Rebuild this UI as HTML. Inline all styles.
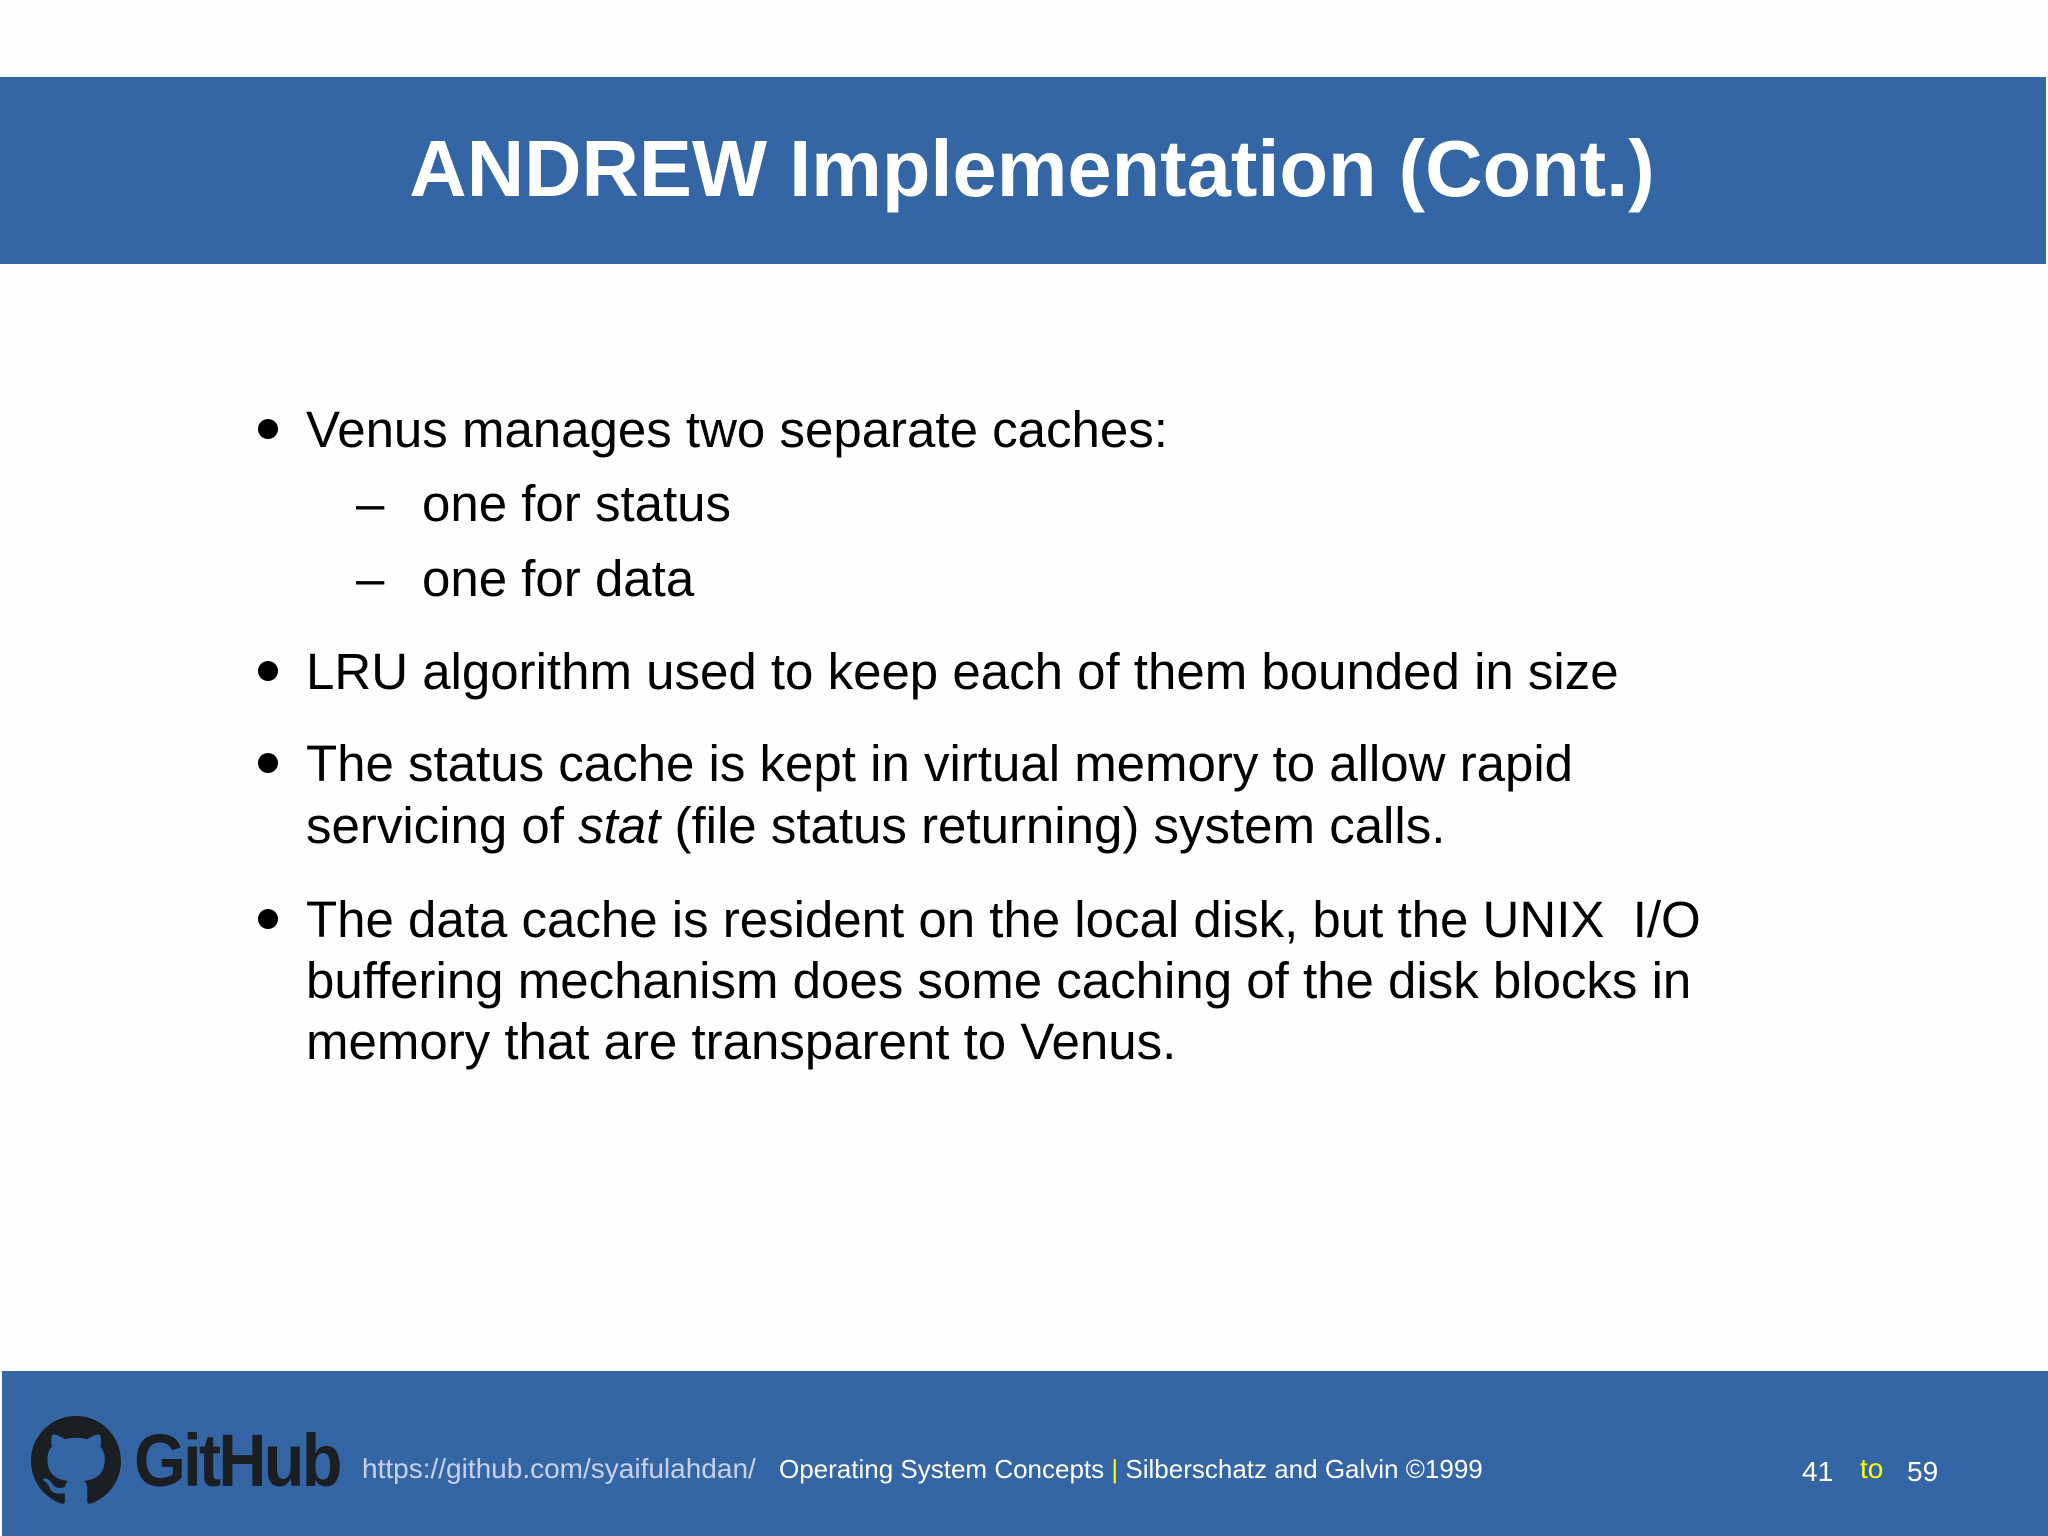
<!DOCTYPE html>
<html><head><meta charset="utf-8"><style>
*{margin:0;padding:0}
body{width:2048px;height:1536px;background:#fdfefe;position:relative;overflow:hidden;font-family:"Liberation Sans",sans-serif;color:#000}
.hdr{position:absolute;left:0;top:77px;width:2046px;height:187px;background:#3465a4}
.title{position:absolute;left:0;width:2064px;top:121px;text-align:center;color:#fff;font-weight:bold;font-size:79.5px;line-height:96px}
.t{position:absolute;font-size:51px;white-space:nowrap;line-height:56px}
.b{position:absolute;width:20px;height:20px;border-radius:50%;background:#000}
.ftr{position:absolute;left:2px;top:1371px;width:2046px;height:165px;background:#3465a4}
.f{position:absolute;font-size:26px;white-space:nowrap;color:#fff}
</style></head><body>
<div class="hdr"></div>
<div class="title">ANDREW Implementation (Cont.)</div>

<div class="b" style="left:258px;top:419px"></div>
<div class="t" style="left:306px;top:402px">Venus manages two separate caches:</div>
<div class="t" style="left:356px;top:476px">–</div>
<div class="t" style="left:422px;top:476px">one for status</div>
<div class="t" style="left:356px;top:551px">–</div>
<div class="t" style="left:422px;top:551px">one for data</div>
<div class="b" style="left:258px;top:661px"></div>
<div class="t" style="left:306px;top:644px">LRU algorithm used to keep each of them bounded in size</div>
<div class="b" style="left:258px;top:753px"></div>
<div class="t" style="left:306px;top:736px">The status cache is kept in virtual memory to allow rapid</div>
<div class="t" style="left:306px;top:798px">servicing of <i>stat</i> (file status returning) system calls.</div>
<div class="b" style="left:258px;top:909px"></div>
<div class="t" style="left:306px;top:892px">The data cache is resident on the local disk, but the UNIX&nbsp; I/O</div>
<div class="t" style="left:306px;top:953px">buffering mechanism does some caching of the disk blocks in</div>
<div class="t" style="left:306px;top:1014px">memory that are transparent to Venus.</div>

<div class="ftr"></div>
<svg style="position:absolute;left:30px;top:1416px" width="92" height="90" viewBox="0 0 16 16"><path fill="#1b1f23" d="M8 0C3.58 0 0 3.58 0 8c0 3.54 2.290 6.530 5.470 7.590.4.07.55-.17.55-.38 0-.19-.01-.82-.01-1.490-2.010.37-2.530-.49-2.690-.94-.09-.23-.48-.94-.82-1.130-.28-.15-.68-.52-.01-.53.63-.01 1.080.58 1.230.82.72 1.210 1.870.87 2.330.66.07-.52.28-.87.51-1.070-1.780-.2-3.640-.89-3.640-3.950 0-.87.31-1.590.82-2.150-.08-.2-.36-1.020.08-2.120 0 0 .67-.21 2.200.82.64-.18 1.320-.27 2-.27.68 0 1.360.09 2 .27 1.530-1.040 2.200-.82 2.200-.82.44 1.100.16 1.920.08 2.120.51.56.82 1.270.82 2.150 0 3.070-1.870 3.750-3.650 3.950.29.25.54.73.54 1.480 0 1.070-.01 1.930-.01 2.200 0 .21.15.46.55.38A8.013 8.013 0 0 0 16 8c0-4.420-3.580-8-8-8z"/></svg>
<div class="f" style="left:134px;top:1418px;font-size:74px;font-weight:bold;color:#1b1f23;letter-spacing:-3px;transform:scaleX(0.9);transform-origin:left">GitHub</div>
<div class="f" style="left:362px;top:1453px;color:#c8d2f0;font-size:28px">https://github.com/syaifulahdan/</div>
<div class="f" style="left:779px;top:1454px">Operating System Concepts <span style="color:#ffff00">|</span> Silberschatz and Galvin ©1999</div>
<div class="f" style="left:1802px;top:1456px;font-size:28px">41</div>
<div class="f" style="left:1860px;top:1453px;color:#ffff00;font-size:28px">to</div>
<div class="f" style="left:1907px;top:1456px;font-size:28px">59</div>
</body></html>
